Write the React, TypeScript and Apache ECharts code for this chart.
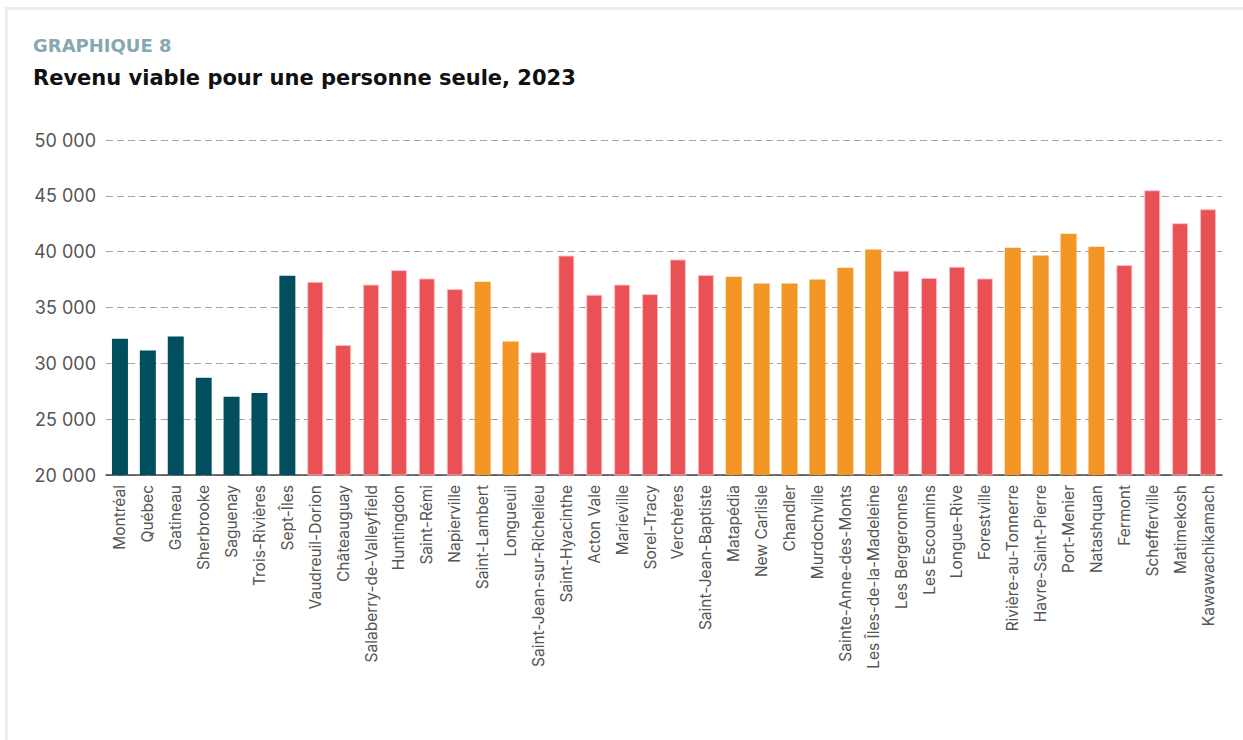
import React, { useEffect, useRef } from "react";
import * as echarts from "echarts";

const categories = [
  "Montréal", "Québec", "Gatineau", "Sherbrooke", "Saguenay", "Trois-Rivières", "Sept-Îles",
  "Vaudreuil-Dorion", "Châteauguay", "Salaberry-de-Valleyfield", "Huntingdon", "Saint-Rémi",
  "Napierville", "Saint-Lambert", "Longueuil", "Saint-Jean-sur-Richelieu", "Saint-Hyacinthe",
  "Acton Vale", "Marieville", "Sorel-Tracy", "Verchères", "Saint-Jean-Baptiste", "Matapédia",
  "New Carlisle", "Chandler", "Murdochville", "Sainte-Anne-des-Monts", "Les Îles-de-la-Madeleine",
  "Les Bergeronnes", "Les Escoumins", "Longue-Rive", "Forestville", "Rivière-au-Tonnerre",
  "Havre-Saint-Pierre", "Port-Menier", "Natashquan", "Fermont", "Schefferville", "Matimekosh",
  "Kawawachikamach",
];

const values = [
  32200, 31150, 32400, 28700, 27000, 27350, 37850,
  37300, 31650, 37050, 38350, 37600,
  36650, 37300, 31950, 31000, 39650,
  36150, 37050, 36200, 39300, 37900, 37750,
  37150, 37150, 37500, 38550, 40200,
  38300, 37650, 38650, 37600, 40350,
  39650, 41600, 40450, 38800, 45500, 42550,
  43800,
];

// T = teal, R = red, O = orange
const groups = [
  "T", "T", "T", "T", "T", "T", "T",
  "R", "R", "R", "R", "R",
  "R", "O", "O", "R", "R",
  "R", "R", "R", "R", "R", "O",
  "O", "O", "O", "O", "O",
  "R", "R", "R", "R", "O",
  "O", "O", "O", "R", "R", "R",
  "R",
];

const yTicks = [20000, 25000, 30000, 35000, 40000, 45000, 50000];

const colorMap: Record<string, string> = { T: "#014f5e", R: "#ea5155", O: "#f39625" };

export default function App() {
  const ref = useRef<HTMLDivElement>(null);
  useEffect(() => {
    document.body.style.margin = "0";
    const chart = echarts.init(ref.current!, null, { renderer: "svg" });
    chart.setOption({
      animation: false,
      title: [
        {
          text: "GRAPHIQUE 8",
          left: 33,
          top: 36,
          padding: 0,
          textStyle: { fontFamily: "DejaVu Sans", fontWeight: "bold", fontSize: 18, color: "#86a8b0" },
        },
        {
          text: "Revenu viable pour une personne seule, 2023",
          left: 33,
          top: 67,
          padding: 0,
          textStyle: { fontFamily: "DejaVu Sans", fontWeight: "bold", fontSize: 21, color: "#111" },
        },
      ],
      grid: { left: 106, right: 21, top: 140, bottom: 265, containLabel: false },
      xAxis: {
        type: "category",
        data: categories,
        axisLine: { lineStyle: { color: "#444", width: 1.5 } },
        axisTick: { show: false },
        axisLabel: {
          rotate: 90,
          interval: 0,
          margin: 10,
          fontFamily: "Inter",
          fontSize: 15.5,
          color: "#555",
        },
      },
      yAxis: {
        type: "value",
        min: yTicks[0],
        max: yTicks[yTicks.length - 1],
        interval: 5000,
        axisLine: { show: false },
        axisTick: { show: false },
        splitLine: { lineStyle: { color: "#a6a6a6", type: [7, 4], width: 1 } },
        axisLabel: {
          margin: 10,
          fontFamily: "Inter",
          fontSize: 18,
          color: "#555",
          formatter: (v: number) => v.toLocaleString("en-US").replace(/,/g, " "),
        },
      },
      series: [
        {
          type: "bar",
          barWidth: 16,
          data: values.map((v, i) => ({
            value: v,
            itemStyle: {
              color: colorMap[groups[i]],
              borderColor: groups[i] === "R" ? "rgba(255,190,195,0.9)" : colorMap[groups[i]],
              borderWidth: groups[i] === "R" ? 1 : 0,
            },
          })),
        },
      ],
    });
    return () => chart.dispose();
  }, []);
  return (
    <div style={{ position: "relative", width: 1243, height: 740, background: "#fff" }}>
      <div
        style={{
          position: "absolute",
          left: 5,
          top: 7,
          width: 1260,
          height: 760,
          border: "3px solid #e9eef0",
          boxSizing: "border-box",
        }}
      />
      <div ref={ref} style={{ position: "absolute", left: 0, top: 0, width: 1243, height: 740 }} />
    </div>
  );
}
